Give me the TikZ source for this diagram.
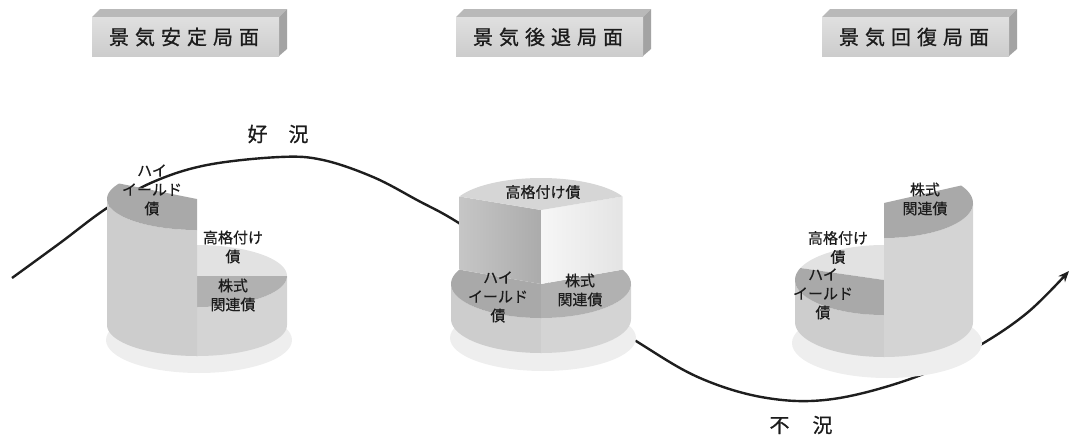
\documentclass[tikz,border=0pt]{standalone}
\usepackage{fontspec}
\newfontfamily\jp[FakeBold=0.5]{Noto Sans CJK JP}
\newfontfamily\jph[FakeBold=0.9]{Noto Sans CJK JP}
\usetikzlibrary{arrows.meta}
\definecolor{shadowc}{HTML}{EEEEEE}
\definecolor{wallA}{HTML}{CDCDCD}
\definecolor{wallB}{HTML}{D4D4D4}
\definecolor{topD}{HTML}{A9A9A9}
\definecolor{topE}{HTML}{B1B1B1}
\definecolor{topL}{HTML}{E2E2E2}
\definecolor{tallTop}{HTML}{D6D6D6}
\definecolor{curvecol}{HTML}{1E1E1E}
\definecolor{txt}{HTML}{1C1C1C}
\definecolor{hfrontT}{HTML}{E0E0E0}
\definecolor{hfrontB}{HTML}{CCCCCC}
\definecolor{htop}{HTML}{B9B9B9}
\definecolor{hside}{HTML}{A3A3A3}
\definecolor{lwL}{HTML}{C6C6C6}
\definecolor{lwR}{HTML}{ABABAB}
\definecolor{rwL}{HTML}{F6F6F6}
\definecolor{rwR}{HTML}{E4E4E4}
% outer wall of a pie segment: style, cx, rx, ry, cy(top), cy(bottom), start angle, end angle
\newcommand{\cylwall}[8]{\fill[#1] plot[domain=#7:#8,samples=40,variable=\t]({#2+#3*cos(\t)},{#5+#4*sin(\t)}) -- plot[domain=#8:#7,samples=40,variable=\t]({#2+#3*cos(\t)},{#6+#4*sin(\t)}) -- cycle;}
% top face of a pie segment: style, cx, cy, rx, ry, start angle, end angle
\newcommand{\cyltop}[7]{\fill[#1] (#2,#3) -- plot[domain=#6:#7,samples=40,variable=\t]({#2+#4*cos(\t)},{#3+#5*sin(\t)}) -- cycle;}
\newcommand{\hsp}{\hspace{6pt}}
\begin{document}
\begin{tikzpicture}[x=1pt,y=-1pt,
  lbl/.style={font=\jp\fontsize{15}{19}\selectfont, align=center, text=txt, inner sep=0pt},
  head/.style={font=\jph\fontsize{20}{24}\selectfont, text=txt, inner sep=0pt},
  big/.style={font=\jph\fontsize{20}{24}\selectfont, text=txt, inner sep=0pt},
  curve/.style={line width=2.4pt, draw=curvecol, -{Stealth[length=11pt,width=9pt]}}]
\useasboundingbox (0,0) rectangle (1072,437);

% ---------- header boxes ----------
\foreach \xl in {92,456,822}{
  \fill[htop] (\xl,17) -- ({\xl+8},9) -- ({\xl+195},9) -- ({\xl+187},17) -- cycle;
  \fill[hside] ({\xl+187},17) -- ({\xl+195},9) -- ({\xl+195},49) -- ({\xl+187},56) -- cycle;
  \shade[top color=hfrontT, bottom color=hfrontB] (\xl,17) rectangle ({\xl+187},56);
}
\node[head] (h1) at (184,37) {景\hsp{}気\hsp{}安\hsp{}定\hsp{}局\hsp{}面};
\node[head] (h2) at (548,37) {景\hsp{}気\hsp{}後\hsp{}退\hsp{}局\hsp{}面};
\node[head] (h3) at (914,37) {景\hsp{}気\hsp{}回\hsp{}復\hsp{}局\hsp{}面};

% ---------- business cycle curve ----------
\coordinate (p1) at (12,278);
\coordinate (p2) at (60,243);
\coordinate (p3) at (107,208);
\coordinate (p4) at (153,182);
\coordinate (p5) at (207,165);
\coordinate (p6) at (280,157);
\coordinate (p7) at (323,160);
\coordinate (p8) at (373,177);
\coordinate (p9) at (417,200);
\coordinate (p10) at (462,225);
\coordinate (p11) at (550,285);
\coordinate (p12) at (636,341);
\coordinate (p13) at (700,378);
\coordinate (p14) at (767,398);
\coordinate (p15) at (833,399);
\coordinate (p16) at (913,378);
\coordinate (p17) at (975,348);
\coordinate (p18) at (1027,313);
\coordinate (p19) at (1069,271);
\draw[curve] plot[smooth, tension=0.6] coordinates {(p1) (p2) (p3) (p4) (p5) (p6) (p7) (p8) (p9) (p10) (p11) (p12) (p13) (p14) (p15) (p16) (p17) (p18) (p19)};
\node[big] (good) at (278,134) {好\hspace{21pt}況};
\node[big] (bad) at (801,425) {不\hspace{23pt}況};

% ---------- cylinder 1 (stable) ----------
\fill[shadowc] (199,340) ellipse [x radius=93, y radius=33];
\cylwall{wallB}{197}{90}{31}{276}{325}{0}{90}
\cyltop{topL}{197}{276}{90}{31}{210}{360}
\cyltop{topE}{197}{276}{90}{31}{0}{90}
\cylwall{wallA}{197}{90}{31}{199}{325}{90}{180}
\cyltop{topD}{197}{199}{90}{31}{90}{210}
\node[lbl] (a1) at (152,190) {ハイ\\イールド\\債};
\node[lbl] (a2) at (233,247) {高格付け\\債};
\node[lbl] (a3) at (233,295) {株式\\関連債};

% ---------- cylinder 2 (recession) ----------
\fill[shadowc] (543,338) ellipse [x radius=93, y radius=33];
\cylwall{wallA}{541}{90}{34}{284}{319}{90}{180}
\cylwall{wallB}{541}{90}{34}{284}{319}{0}{90}
\cyltop{topD}{541}{284}{90}{34}{90}{205}
\cyltop{topE}{541}{284}{90}{34}{-25}{90}
\shade[left color=lwL, right color=lwR]
  (541,210) -- (459.4,196.5) -- (459.4,269.6) -- (541,284) -- cycle;
\shade[left color=rwL, right color=rwR]
  (541,210) -- (622.6,196.5) -- (622.6,269.6) -- (541,284) -- cycle;
\cyltop{tallTop}{541}{210}{90}{32}{205}{335}
\node[lbl] (b1) at (543,192) {高格付け債};
\node[lbl] (b2) at (498,297) {ハイ\\イールド\\債};
\node[lbl] (b3) at (580,290) {株式\\関連債};

% ---------- cylinder 3 (recovery) ----------
\fill[shadowc] (887,343) ellipse [x radius=95, y radius=35];
\cyltop{topL}{884}{280}{89}{35}{200}{330}
\cylwall{wallA}{884}{89}{35}{280}{322}{90}{180}
\cyltop{topD}{884}{280}{89}{35}{90}{200}
\cylwall{wallB}{884}{89}{35}{203}{322}{0}{90}
\cyltop{topD}{884}{203}{89}{35}{-30}{90}
\node[lbl] (c1) at (925,199) {株式\\関連債};
\node[lbl] (c2) at (838,247.5) {高格付け\\債};
\node[lbl] (c3) at (823,294) {ハイ\\イールド\\債};
\end{tikzpicture}
\end{document}
